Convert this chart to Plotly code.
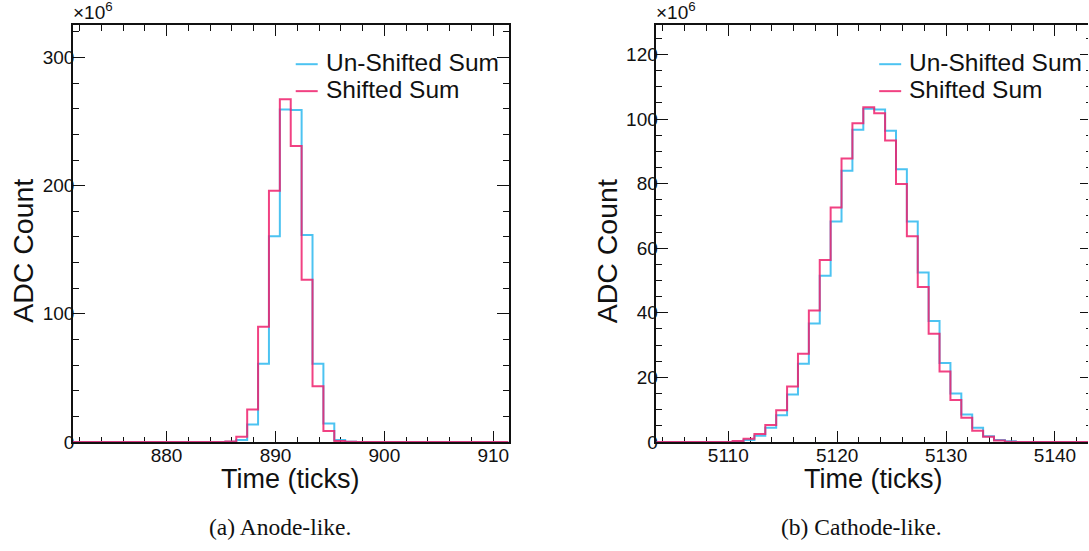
import numpy as np
import plotly.graph_objects as go

# ---------------- data (values in units of 1e6 ADC counts) ----------------
# Panel (a) Anode-like: 40 bins of width 1 tick starting at 871.4
bins_a_start = 871.4
unshifted_a = [0, 0, 0, 0, 0, 0, 0, 0, 0, 0, 0, 0, 0, 0,
               0.1, 1.6, 13.7, 61.0, 160.5, 259.5, 259.0, 161.5, 61.0, 14.5,
               1.6, 0.2, 0, 0, 0, 0, 0, 0, 0, 0, 0, 0, 0, 0, 0, 0]
shifted_a = [0, 0, 0, 0, 0, 0, 0, 0, 0, 0, 0, 0, 0, 0,
             0.3, 4.0, 25.4, 90.0, 196.0, 267.5, 231.0, 126.5, 43.5, 8.5,
             0.8, 0.1, 0, 0, 0, 0, 0, 0, 0, 0, 0, 0, 0, 0, 0, 0]

# Panel (b) Cathode-like: 40 bins of width 1 tick starting at 5103.4
bins_b_start = 5103.4
unshifted_b = [0, 0, 0, 0, 0, 0, 0,
               0.1, 0.6, 1.9, 4.4, 8.3, 14.7, 24.2, 36.7, 51.5, 68.3, 84.0, 96.7,
               103.2, 103.0, 96.4, 84.5, 68.3, 52.5, 37.5, 24.5, 15.0, 8.5, 4.4,
               1.8, 0.6, 0.2, 0, 0, 0, 0, 0, 0, 0]
shifted_b = [0, 0, 0, 0, 0, 0, 0,
             0.3, 1.0, 2.5, 5.3, 9.8, 17.2, 27.3, 40.7, 56.4, 72.6, 87.8, 98.7,
             103.7, 101.8, 93.4, 79.9, 63.7, 48.0, 33.5, 21.8, 13.0, 7.5, 3.5,
             1.6, 0.5, 0.1, 0, 0, 0, 0, 0, 0, 0]

series_names = ["Un-Shifted Sum", "Shifted Sum"]
captions = ["(a) Anode-like.", "(b) Cathode-like."]
x_title = "Time (ticks)"
y_title = "ADC Count"

# ---------------- style ----------------
W, H = 1089, 551
BLUE = "rgba(45,185,238,0.85)"
PINK = "rgba(238,32,108,0.85)"
INK = "#111"
SANS = "Liberation Sans, Arial, sans-serif"
SERIF = "Liberation Serif, Times New Roman, serif"


def px(x):
    return x / W


def py(y):
    return 1 - y / H


def edges(start, vals):
    return start + np.arange(len(vals) + 1)


def step_y(vals):
    return list(vals) + [vals[-1]]


fig = go.Figure()
for start, blue, pink, xa, ya in [
    (bins_a_start, unshifted_a, shifted_a, "x", "y"),
    (bins_b_start, unshifted_b, shifted_b, "x2", "y2"),
]:
    fig.add_trace(go.Scatter(x=edges(start, blue), y=step_y(blue), mode="lines",
                             line=dict(shape="hv", color=BLUE, width=2),
                             name=series_names[0], xaxis=xa, yaxis=ya, showlegend=False))
    fig.add_trace(go.Scatter(x=edges(start, pink), y=step_y(pink), mode="lines",
                             line=dict(shape="hv", color=PINK, width=2),
                             name=series_names[1], xaxis=xa, yaxis=ya, showlegend=False))

# empty trace so the free right-hand tick axis of panel (b) is drawn
fig.add_trace(go.Scatter(x=[None], y=[None], xaxis="x2", yaxis="y3",
                         showlegend=False, hoverinfo="skip"))

# plot-area geometry (pixels)
L_A, R_A = 73, 509
L_B = 657
TOP, BOT = 26, 451
PX_PER_TICK = 10.9
x_b_end = bins_b_start + (W - L_B) / PX_PER_TICK

common_x = dict(ticks="inside", ticklen=11, tickwidth=1, tickcolor=INK,
                showline=True, linewidth=1.6, linecolor=INK, mirror="ticks",
                showgrid=False, zeroline=False, tickmode="linear", tick0=0, dtick=10,
                minor=dict(ticks="inside", ticklen=5.5, tickwidth=1, tickcolor=INK,
                           tickmode="linear", tick0=0, dtick=2, showgrid=False),
                tickfont=dict(family=SANS, size=19, color=INK),
                ticklabelstandoff=-5,
                layer="below traces", fixedrange=True)
common_y = dict(ticks="inside", ticklen=12, tickwidth=1, tickcolor=INK,
                showline=True, linewidth=1.6, linecolor=INK,
                showgrid=False, zeroline=False, tickmode="linear", tick0=0,
                tickfont=dict(family=SANS, size=19, color=INK),
                ticklabelstandoff=-7,
                layer="below traces", fixedrange=True)

fig.update_layout(
    width=W, height=H,
    margin=dict(l=0, r=0, t=0, b=0),
    paper_bgcolor="white", plot_bgcolor="white",
    showlegend=False,
    font=dict(family=SANS, color=INK),
    xaxis=dict(domain=[px(L_A), px(R_A)], range=[bins_a_start, bins_a_start + len(shifted_a)],
               anchor="y", **common_x),
    yaxis=dict(domain=[py(BOT), py(TOP)], range=[0, 325], dtick=100, anchor="x",
               mirror="ticks",
               minor=dict(ticks="inside", ticklen=6, tickwidth=1, tickcolor=INK,
                          tickmode="linear", tick0=0, dtick=20, showgrid=False),
               **common_y),
    xaxis2=dict(domain=[px(L_B), 1.0], range=[bins_b_start, x_b_end], anchor="y2", **common_x),
    yaxis2=dict(domain=[py(BOT), py(TOP)], range=[0, 129], dtick=20, anchor="x2",
                mirror=False,
                minor=dict(ticks="inside", ticklen=6, tickwidth=1, tickcolor=INK,
                           tickmode="linear", tick0=0, dtick=5, showgrid=False),
                **common_y),
    yaxis3=dict(overlaying="y2", anchor="free", position=1.0, side="right",
                range=[0, 129], tickmode="linear", tick0=0, dtick=20,
                ticks="inside", ticklen=8, tickwidth=1, tickcolor=INK,
                minor=dict(ticks="inside", ticklen=2, tickwidth=1, tickcolor=INK,
                           tickmode="linear", tick0=0, dtick=5, showgrid=False),
                showticklabels=False, showline=False, showgrid=False, zeroline=False,
                fixedrange=True),
)

annotations = []
shapes = []
for off, cap_x, cap in [(0, 280, captions[0]), (L_B - L_A, 862, captions[1])]:
    left = L_A + off
    right = R_A + off
    # exponent label
    annotations.append(dict(text="×10<sup>6</sup>", x=px(left - 2), y=py(26), xref="paper", yref="paper",
                            xanchor="left", yanchor="bottom", showarrow=False,
                            font=dict(family=SANS, size=19, color=INK)))
    # y title
    annotations.append(dict(text=y_title, x=px(23 + off), y=py(256), xref="paper", yref="paper",
                            xanchor="center", yanchor="middle", textangle=-90, showarrow=False,
                            font=dict(family=SANS, size=28.5, color=INK)))
    # x title
    annotations.append(dict(text=x_title, x=px((left + right) / 2 - 1), y=py(489), xref="paper", yref="paper",
                            xanchor="center", yanchor="middle", showarrow=False,
                            font=dict(family=SANS, size=27, color=INK)))
    # caption
    annotations.append(dict(text=cap, x=px(cap_x), y=py(538),
                            xref="paper", yref="paper", xanchor="center", yanchor="middle",
                            showarrow=False, font=dict(family=SERIF, size=23.5, color=INK)))
    # legend
    for k, (name, col) in enumerate(zip(series_names, [BLUE, PINK])):
        yc = 64 + 27.5 * k
        shapes.append(dict(type="line", xref="paper", yref="paper",
                           x0=px(296 + off), x1=px(318 + off), y0=py(yc + 1.5), y1=py(yc + 1.5),
                           line=dict(color=col, width=2)))
        annotations.append(dict(text=name, x=px(324 + off), y=py(yc), xref="paper", yref="paper",
                                xanchor="left", yanchor="middle", showarrow=False,
                                font=dict(family=SANS, size=24.5, color=INK)))

fig.update_layout(annotations=annotations, shapes=shapes)
fig.write_html("out.html", config={"displayModeBar": False},
               post_script="document.body.style.margin='0px';document.body.style.overflow='hidden';")
